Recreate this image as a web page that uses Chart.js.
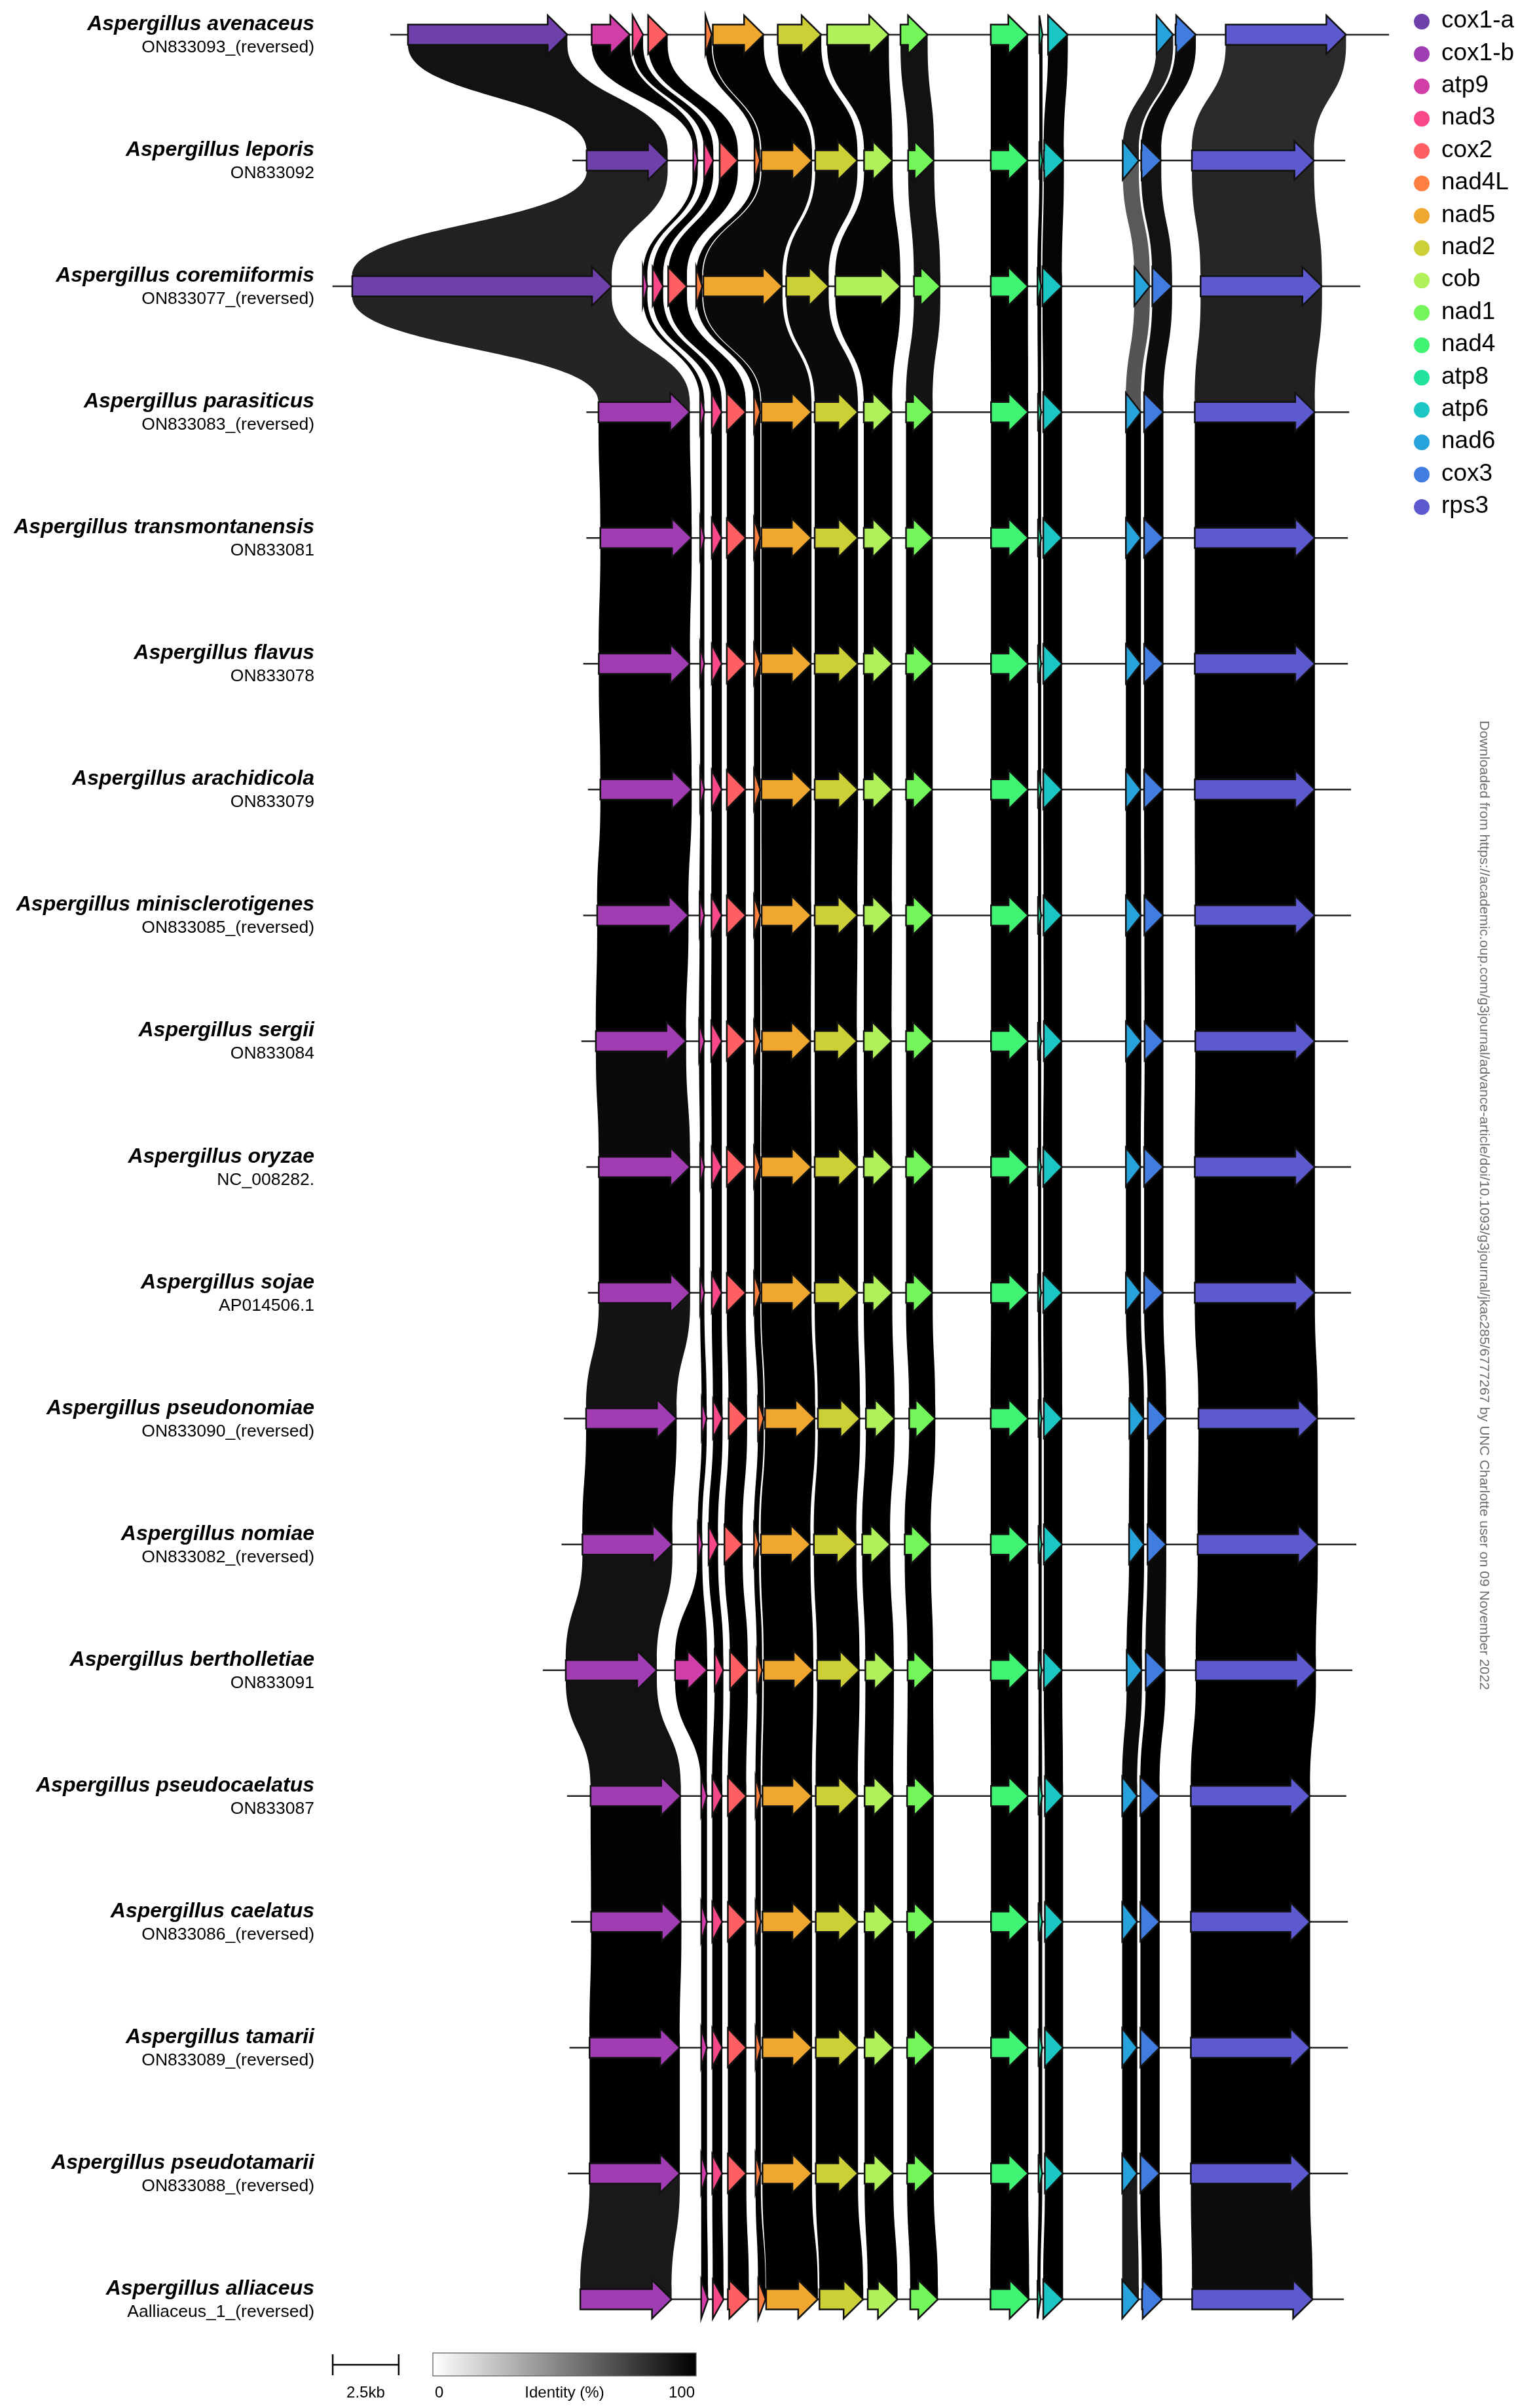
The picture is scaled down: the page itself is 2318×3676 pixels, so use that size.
<!DOCTYPE html>
<html>
<head>
<meta charset="utf-8">
<script src="https://cdn.jsdelivr.net/npm/chart.js@4.4.1/dist/chart.umd.min.js"></script>
<style>
  html, body { margin: 0; padding: 0; background: #ffffff; overflow: hidden; }
  canvas { display: block; }
</style>
</head>
<body>
<canvas id="synteny" width="2318" height="3676"></canvas>
<script>
// ---- genomes (top to bottom) ----
const genomeNames = [
  'Aspergillus avenaceus', 'Aspergillus leporis', 'Aspergillus coremiiformis',
  'Aspergillus parasiticus', 'Aspergillus transmontanensis', 'Aspergillus flavus',
  'Aspergillus arachidicola', 'Aspergillus minisclerotigenes', 'Aspergillus sergii',
  'Aspergillus oryzae', 'Aspergillus sojae', 'Aspergillus pseudonomiae',
  'Aspergillus nomiae', 'Aspergillus bertholletiae', 'Aspergillus pseudocaelatus',
  'Aspergillus caelatus', 'Aspergillus tamarii', 'Aspergillus pseudotamarii',
  'Aspergillus alliaceus'
];
const accessions = [
  'ON833093_(reversed)', 'ON833092', 'ON833077_(reversed)', 'ON833083_(reversed)',
  'ON833081', 'ON833078', 'ON833079', 'ON833085_(reversed)', 'ON833084',
  'NC_008282.', 'AP014506.1', 'ON833090_(reversed)', 'ON833082_(reversed)',
  'ON833091', 'ON833087', 'ON833086_(reversed)', 'ON833089_(reversed)',
  'ON833088_(reversed)', 'Aalliaceus_1_(reversed)'
];

// ---- genes (legend order) ----
const geneNames = ['cox1-a', 'cox1-b', 'atp9', 'nad3', 'cox2', 'nad4L', 'nad5', 'nad2',
  'cob', 'nad1', 'nad4', 'atp8', 'atp6', 'nad6', 'cox3', 'rps3'];
const geneColors = ['#6e40aa', '#a03db3', '#d23ea7', '#f9488a', '#ff5e63', '#ff7f41',
  '#efa72f', '#cdcf37', '#aff05b', '#73f65a', '#40f373', '#21e39b', '#1ac7c2',
  '#27a3dc', '#417de0', '#5c5ace'];

// ---- sequence extent drawn for each genome (kb) ----
const lineStart = [2.38, 9.28, 0.19, 9.81, 9.81, 9.69, 9.87, 9.69, 9.62, 9.81, 9.87,
  8.96, 8.87, 8.16, 9.08, 9.23, 9.17, 9.11, 9.58];
const lineEnd = [40.22, 38.56, 39.13, 38.71, 38.66, 38.66, 38.78, 38.78, 38.67, 38.78,
  38.78, 38.92, 38.98, 38.83, 38.60, 38.66, 38.66, 38.66, 38.51];

// ---- gene spans [start, end] in kb, one slot per gene in legend order ----
const avenaceus = [[3.05, 9.09], null, [10.01, 11.46], [11.56, 11.96], [12.15, 12.89],
  [14.32, 14.56], [14.60, 16.53], [17.06, 18.71], [18.93, 21.27], [21.71, 22.74],
  [25.13, 26.54], [26.97, 27.09], [27.30, 28.05], [31.41, 32.04], [32.13, 32.90], [34.03, 38.59]];
const leporis = [[9.82, 12.89], null, [13.86, 14.03], [14.27, 14.62], [14.86, 15.55],
  [16.18, 16.39], [16.44, 18.36], [18.48, 20.08], [20.33, 21.41], [22.00, 22.99],
  [25.13, 26.54], [26.97, 27.09], [27.14, 27.90], [30.13, 30.74], [30.83, 31.59], [32.75, 37.38]];
const coremiiformis = [[0.94, 10.77], null, [11.95, 12.12], [12.32, 12.72], [12.91, 13.62],
  [13.97, 14.20], [14.24, 17.24], [17.38, 18.99], [19.24, 21.71], [22.22, 23.22],
  [25.13, 26.54], [26.90, 27.04], [27.09, 27.83], [30.57, 31.16], [31.25, 32.00], [33.08, 37.68]];
const parasiticus = [null, [10.27, 13.73], [14.12, 14.28], [14.56, 14.94], [15.13, 15.85],
  [16.16, 16.40], [16.44, 18.34], [18.46, 20.10], [20.32, 21.40], [21.92, 22.93],
  [25.14, 26.55], [26.92, 27.04], [27.12, 27.83], [30.25, 30.82], [30.94, 31.67], [32.86, 37.41]];
const transmontanensis = [null, [10.34, 13.80], [14.12, 14.28], [14.56, 14.94], [15.13, 15.85],
  [16.16, 16.40], [16.44, 18.34], [18.46, 20.10], [20.32, 21.40], [21.92, 22.93],
  [25.14, 26.55], [26.92, 27.04], [27.12, 27.83], [30.25, 30.82], [30.94, 31.67], [32.86, 37.41]];
const flavus = [null, [10.28, 13.74], [14.12, 14.28], [14.56, 14.94], [15.13, 15.85],
  [16.16, 16.40], [16.44, 18.34], [18.46, 20.10], [20.32, 21.40], [21.92, 22.93],
  [25.14, 26.55], [26.92, 27.04], [27.12, 27.83], [30.25, 30.82], [30.94, 31.67], [32.86, 37.41]];
const arachidicola = [null, [10.34, 13.80], [14.12, 14.28], [14.56, 14.94], [15.13, 15.85],
  [16.16, 16.40], [16.44, 18.34], [18.46, 20.10], [20.32, 21.40], [21.92, 22.93],
  [25.14, 26.55], [26.92, 27.04], [27.12, 27.83], [30.25, 30.82], [30.94, 31.67], [32.86, 37.41]];
const minisclerotigenes = [null, [10.22, 13.68], [14.10, 14.28], [14.55, 14.94], [15.13, 15.85],
  [16.16, 16.40], [16.45, 18.33], [18.46, 20.08], [20.32, 21.39], [21.92, 22.93],
  [25.14, 26.55], [26.92, 27.04], [27.13, 27.83], [30.25, 30.83], [30.95, 31.67], [32.87, 37.41]];
const sergii = [null, [10.17, 13.59], [14.08, 14.28], [14.54, 14.94], [15.13, 15.85],
  [16.16, 16.40], [16.46, 18.32], [18.46, 20.06], [20.32, 21.38], [21.92, 22.93],
  [25.14, 26.55], [26.92, 27.04], [27.14, 27.83], [30.25, 30.84], [30.96, 31.67], [32.88, 37.41]];
const oryzae = [null, [10.28, 13.74], [14.12, 14.28], [14.56, 14.94], [15.13, 15.85],
  [16.16, 16.40], [16.44, 18.34], [18.46, 20.10], [20.32, 21.40], [21.92, 22.93],
  [25.14, 26.55], [26.92, 27.04], [27.12, 27.83], [30.25, 30.82], [30.94, 31.67], [32.86, 37.41]];
const sojae = [null, [10.28, 13.74], [14.12, 14.28], [14.56, 14.94], [15.13, 15.85],
  [16.16, 16.40], [16.44, 18.34], [18.46, 20.10], [20.32, 21.40], [21.92, 22.93],
  [25.14, 26.55], [26.92, 27.04], [27.12, 27.83], [30.25, 30.82], [30.94, 31.67], [32.86, 37.41]];
const pseudonomiae = [null, [9.80, 13.23], [14.18, 14.37], [14.61, 14.97], [15.20, 15.90],
  [16.31, 16.53], [16.58, 18.48], [18.58, 20.18], [20.40, 21.49], [22.04, 23.03],
  [25.13, 26.55], [26.94, 27.06], [27.14, 27.84], [30.38, 30.94], [31.08, 31.78], [33.00, 37.52]];
const nomiae = [null, [9.66, 13.07], [14.03, 14.20], [14.44, 14.80], [15.04, 15.73],
  [16.16, 16.35], [16.42, 18.30], [18.43, 20.04], [20.26, 21.32], [21.87, 22.86],
  [25.13, 26.55], [26.94, 27.06], [27.14, 27.84], [30.37, 30.94], [31.07, 31.78], [32.97, 37.52]];
const bertholletiae = [null, [9.03, 12.48], [13.17, 14.39], [14.67, 15.00], [15.25, 15.93],
  [16.27, 16.47], [16.53, 18.41], [18.55, 20.16], [20.38, 21.46], [21.98, 22.95],
  [25.13, 26.55], [26.94, 27.06], [27.14, 27.84], [30.28, 30.86], [31.00, 31.75], [32.90, 37.45]];
const pseudocaelatus = [null, [9.97, 13.39], [14.16, 14.38], [14.58, 14.96], [15.17, 15.87],
  [16.22, 16.42], [16.48, 18.36], [18.50, 20.10], [20.35, 21.44], [21.96, 22.97],
  [25.14, 26.55], [26.94, 27.08], [27.18, 27.87], [30.11, 30.68], [30.80, 31.53], [32.71, 37.23]];
const caelatus = [null, [9.99, 13.41], [14.16, 14.38], [14.58, 14.96], [15.17, 15.87],
  [16.22, 16.42], [16.48, 18.36], [18.50, 20.10], [20.35, 21.44], [21.96, 22.97],
  [25.14, 26.55], [26.94, 27.08], [27.18, 27.87], [30.11, 30.68], [30.80, 31.53], [32.71, 37.23]];
const tamarii = [null, [9.93, 13.35], [14.16, 14.38], [14.58, 14.96], [15.17, 15.87],
  [16.22, 16.42], [16.48, 18.36], [18.50, 20.10], [20.35, 21.44], [21.96, 22.97],
  [25.14, 26.55], [26.94, 27.08], [27.18, 27.87], [30.11, 30.68], [30.80, 31.53], [32.71, 37.23]];
const pseudotamarii = [null, [9.93, 13.35], [14.16, 14.38], [14.58, 14.96], [15.17, 15.87],
  [16.22, 16.42], [16.48, 18.36], [18.50, 20.10], [20.35, 21.44], [21.96, 22.97],
  [25.14, 26.55], [26.94, 27.08], [27.18, 27.87], [30.11, 30.68], [30.80, 31.53], [32.71, 37.23]];
const alliaceus = [null, [9.58, 13.04], [14.16, 14.42], [14.60, 15.01], [15.17, 15.97],
  [16.32, 16.60], [16.62, 18.58], [18.64, 20.30], [20.47, 21.60], [22.08, 23.13],
  [25.12, 26.59], [26.90, 27.02], [27.12, 27.87], [30.11, 30.74], [30.86, 31.63], [32.76, 37.33]];

const geneSpans = [avenaceus, leporis, coremiiformis, parasiticus, transmontanensis, flavus,
  arachidicola, minisclerotigenes, sergii, oryzae, sojae, pseudonomiae, nomiae,
  bertholletiae, pseudocaelatus, caelatus, tamarii, pseudotamarii, alliaceus];

// ---- pairwise identity (%) of each gene between neighbouring genomes ----
const idAvenaceusLeporis       = [93, null, 99, 100, 100, 100, 99, 99, 98, 93, 100, 100, 98, 87, 96, 83];
const idLeporisCoremiiformis   = [87, null, 100, 100, 100, 100, 96, 96, 98, 93, 100, 100, 98, 65, 93, 85];
const idCoremiiformisParasit   = [86, null, 100, 100, 100, 100, 96, 96, 100, 92, 100, 100, 100, 67, 95, 87];
const idParasitTransmont       = [null, 100, 100, 100, 100, 100, 100, 100, 100, 100, 100, 100, 100, 100, 100, 100];
const idTransmontFlavus        = [null, 100, 100, 100, 100, 100, 100, 100, 100, 100, 100, 100, 100, 100, 100, 100];
const idFlavusArachidicola     = [null, 100, 100, 100, 100, 100, 100, 100, 100, 100, 100, 100, 100, 100, 100, 100];
const idArachidMinisclero      = [null, 100, 100, 100, 100, 100, 100, 100, 100, 100, 100, 100, 100, 100, 100, 100];
const idMinischeroSergii       = [null, 100, 100, 100, 100, 100, 100, 100, 100, 100, 100, 100, 100, 100, 100, 100];
const idSergiiOryzae           = [null, 96, 100, 100, 100, 100, 100, 100, 100, 100, 100, 100, 100, 100, 100, 100];
const idOryzaeSojae            = [null, 100, 100, 100, 100, 100, 100, 100, 100, 100, 100, 100, 100, 100, 100, 100];
const idSojaePseudonomiae      = [null, 92, 100, 100, 100, 100, 100, 100, 100, 100, 100, 100, 100, 99, 100, 100];
const idPseudonomiaeNomiae     = [null, 99, 100, 100, 100, 100, 100, 100, 100, 100, 100, 100, 100, 100, 100, 100];
const idNomiaeBertholletiae    = [null, 93, 100, 100, 100, 100, 100, 100, 100, 100, 100, 100, 100, 100, 96, 100];
const idBerthPseudocaelatus    = [null, 93, 100, 100, 100, 100, 100, 100, 100, 100, 100, 100, 100, 96, 100, 100];
const idPseudocaelCaelatus     = [null, 99, 100, 100, 100, 100, 100, 100, 100, 100, 100, 100, 100, 100, 100, 100];
const idCaelatusTamarii        = [null, 100, 100, 100, 100, 100, 100, 100, 100, 100, 100, 100, 100, 100, 100, 100];
const idTamariiPseudotamarii   = [null, 100, 100, 100, 100, 100, 100, 100, 100, 100, 100, 100, 100, 100, 100, 100];
const idPseudotamAlliaceus     = [null, 90, 100, 100, 100, 100, 100, 100, 100, 100, 100, 100, 100, 90, 100, 95];

const pairIdentity = [idAvenaceusLeporis, idLeporisCoremiiformis, idCoremiiformisParasit,
  idParasitTransmont, idTransmontFlavus, idFlavusArachidicola, idArachidMinisclero,
  idMinischeroSergii, idSergiiOryzae, idOryzaeSojae, idSojaePseudonomiae,
  idPseudonomiaeNomiae, idNomiaeBertholletiae, idBerthPseudocaelatus,
  idPseudocaelCaelatus, idCaelatusTamarii, idTamariiPseudotamarii, idPseudotamAlliaceus];

// a gene missing in the lower genome is matched to its paralogous copy
const partnerGene = { 'cox1-a': 'cox1-b' };

// scale bar and colour bar
const scaleBarStartKb = 0.2;
const scaleBarLengthKb = 2.5;
const scaleBarLabel = '2.5kb';
const identityTicks = ['0', 'Identity (%)', '100'];
const sourceNote = 'Downloaded from https://academic.oup.com/g3journal/advance-article/doi/10.1093/g3journal/jkac285/6777267 by UNC Charlotte user on 09 November 2022';

// ---- drawing helpers ----
const BODY_HALF = 15.5, HEAD_HALF = 29.5, HEAD_LEN = 30, RIBBON_INSET = 16;
const SANS = '"Liberation Sans", Arial, Helvetica, sans-serif';

function arrowPath(ctx, x0, x1, y) {
  const len = x1 - x0;
  const hl = Math.min(HEAD_LEN, len);
  ctx.beginPath();
  if (len - hl > 0.5) {
    ctx.moveTo(x0, y - BODY_HALF);
    ctx.lineTo(x1 - hl, y - BODY_HALF);
    ctx.lineTo(x1 - hl, y - HEAD_HALF);
    ctx.lineTo(x1, y);
    ctx.lineTo(x1 - hl, y + HEAD_HALF);
    ctx.lineTo(x1 - hl, y + BODY_HALF);
    ctx.lineTo(x0, y + BODY_HALF);
  } else {
    ctx.moveTo(x0, y - HEAD_HALF);
    ctx.lineTo(x1, y);
    ctx.lineTo(x0, y + HEAD_HALF);
  }
  ctx.closePath();
}

function ribbonPath(ctx, a1, b1, a2, b2, y1, y2) {
  const ya = y1 + RIBBON_INSET, yb = y2 - RIBBON_INSET, ym = (ya + yb) / 2;
  ctx.beginPath();
  ctx.moveTo(a1, y1);
  ctx.lineTo(a1, ya);
  ctx.bezierCurveTo(a1, ym, a2, ym, a2, yb);
  ctx.lineTo(a2, y2);
  ctx.lineTo(b2, y2);
  ctx.lineTo(b2, yb);
  ctx.bezierCurveTo(b2, ym, b1, ym, b1, ya);
  ctx.lineTo(b1, y1);
  ctx.closePath();
}

function identityShade(pct) {
  const v = Math.round(255 * (1 - pct / 100));
  return 'rgb(' + v + ',' + v + ',' + v + ')';
}

const syntenyPlugin = {
  id: 'synteny',
  beforeDatasetsDraw(chart) {
    const ctx = chart.ctx, xs = chart.scales.x, ys = chart.scales.y;
    ctx.save();
    for (let p = 0; p < pairIdentity.length; p++) {
      const y1 = ys.getPixelForValue(p), y2 = ys.getPixelForValue(p + 1);
      const top = geneSpans[p], bottom = geneSpans[p + 1];
      for (let g = 0; g < geneNames.length; g++) {
        const pct = pairIdentity[p][g];
        if (pct == null || !top[g]) continue;
        let low = bottom[g];
        if (!low && partnerGene[geneNames[g]]) low = bottom[geneNames.indexOf(partnerGene[geneNames[g]])];
        if (!low) continue;
        ribbonPath(ctx,
          xs.getPixelForValue(top[g][0]), xs.getPixelForValue(top[g][1]),
          xs.getPixelForValue(low[0]), xs.getPixelForValue(low[1]), y1, y2);
        ctx.fillStyle = identityShade(pct);
        ctx.fill();
      }
    }
    ctx.restore();
  },
  afterDatasetsDraw(chart) {
    const ctx = chart.ctx, xs = chart.scales.x, ys = chart.scales.y;
    ctx.save();
    ctx.lineJoin = 'miter';
    ctx.lineWidth = 2.5;
    ctx.strokeStyle = '#111111';
    geneSpans.forEach((row, r) => {
      const y = ys.getPixelForValue(r);
      row.forEach((span, g) => {
        if (!span) return;
        arrowPath(ctx, xs.getPixelForValue(span[0]), xs.getPixelForValue(span[1]), y);
        ctx.fillStyle = geneColors[g];
        ctx.fill();
        ctx.stroke();
      });
    });
    ctx.restore();
  },
  afterDraw(chart) {
    const ctx = chart.ctx, xs = chart.scales.x, ys = chart.scales.y;
    ctx.save();
    // genome labels
    ctx.fillStyle = '#000';
    ctx.textAlign = 'right';
    ctx.textBaseline = 'alphabetic';
    genomeNames.forEach((name, r) => {
      const y = ys.getPixelForValue(r);
      ctx.font = 'italic bold 32px ' + SANS;
      ctx.fillText(name, 480, y - 7);
      ctx.font = '26.5px ' + SANS;
      ctx.fillText(accessions[r], 480, y + 27);
    });
    // gene legend
    ctx.textAlign = 'left';
    ctx.textBaseline = 'middle';
    ctx.font = '37px ' + SANS;
    geneNames.forEach((name, g) => {
      const y = 32 + g * 49.4;
      ctx.beginPath();
      ctx.arc(2171, y + 1, 12, 0, Math.PI * 2);
      ctx.fillStyle = geneColors[g];
      ctx.fill();
      ctx.fillStyle = '#000';
      ctx.fillText(name, 2201, y);
    });
    // scale bar
    const sx0 = xs.getPixelForValue(scaleBarStartKb);
    const sx1 = xs.getPixelForValue(scaleBarStartKb + scaleBarLengthKb);
    ctx.strokeStyle = '#000';
    ctx.lineWidth = 2.5;
    ctx.beginPath();
    ctx.moveTo(sx0, 3610); ctx.lineTo(sx1, 3610);
    ctx.moveTo(sx0, 3594); ctx.lineTo(sx0, 3626);
    ctx.moveTo(sx1, 3594); ctx.lineTo(sx1, 3626);
    ctx.stroke();
    ctx.font = '24px ' + SANS;
    ctx.textBaseline = 'alphabetic';
    ctx.textAlign = 'center';
    ctx.fillText(scaleBarLabel, (sx0 + sx1) / 2, 3660);
    // identity colour bar
    const cx0 = 661, cx1 = 1063, cy0 = 3592, cy1 = 3627;
    const grad = ctx.createLinearGradient(cx0, 0, cx1, 0);
    grad.addColorStop(0, identityShade(0));
    grad.addColorStop(1, identityShade(100));
    ctx.fillStyle = grad;
    ctx.fillRect(cx0, cy0, cx1 - cx0, cy1 - cy0);
    ctx.strokeStyle = '#555';
    ctx.lineWidth = 1.2;
    ctx.strokeRect(cx0, cy0, cx1 - cx0, cy1 - cy0);
    ctx.fillStyle = '#000';
    ctx.textAlign = 'left';
    ctx.fillText(identityTicks[0], cx0 + 3, 3660);
    ctx.textAlign = 'center';
    ctx.fillText(identityTicks[1], 862, 3660);
    ctx.textAlign = 'right';
    ctx.fillText(identityTicks[2], cx1 - 2, 3660);
    // vertical source note
    ctx.translate(2266, 1100);
    ctx.rotate(Math.PI / 2);
    ctx.font = '21px "Liberation Sans Narrow", ' + SANS;
    const w = ctx.measureText(sourceNote).width;
    ctx.scale(1480 / w, 1);
    ctx.textAlign = 'left';
    ctx.textBaseline = 'middle';
    ctx.fillStyle = '#6e6e6e';
    ctx.fillText(sourceNote, 0, 0);
    ctx.restore();
  }
};

const lineDatasets = genomeNames.map((name, r) => ({
  label: name,
  data: [{ x: lineStart[r], y: r }, { x: lineEnd[r], y: r }],
  borderColor: '#222222',
  borderWidth: 2.5,
  pointRadius: 0,
  fill: false,
  tension: 0,
  clip: false
}));

new Chart(document.getElementById('synteny'), {
  type: 'line',
  data: { datasets: lineDatasets },
  options: {
    responsive: false,
    animation: false,
    devicePixelRatio: 1,
    events: [],
    layout: { padding: { left: 500, right: 105, top: 53, bottom: 166 } },
    scales: {
      x: { type: 'linear', min: 0, max: 42.5, display: false },
      y: { type: 'linear', min: 0, max: 18, reverse: true, display: false }
    },
    plugins: { legend: { display: false }, tooltip: { enabled: false } }
  },
  plugins: [syntenyPlugin]
});
</script>
</body>
</html>
